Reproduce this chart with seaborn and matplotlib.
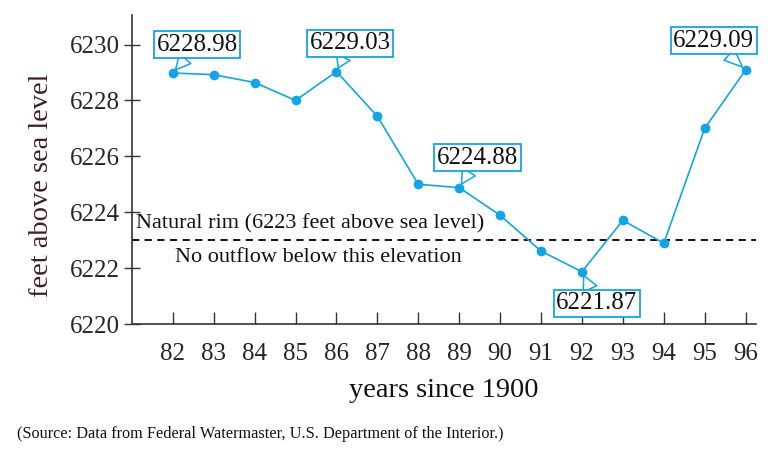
import pandas as pd
import seaborn as sns
import matplotlib
matplotlib.use("Agg")
import matplotlib.pyplot as plt

# Lake level data (years since 1900 vs feet above sea level)
years = [82, 83, 84, 85, 86, 87, 88, 89, 90, 91, 92, 93, 94, 95, 96]
levels = [6228.98, 6228.92, 6228.64, 6228.00, 6229.03, 6227.43, 6225.00, 6224.88,
          6223.89, 6222.61, 6221.87, 6223.71, 6222.89, 6227.00, 6229.09]
y_ticks = [6220, 6222, 6224, 6226, 6228, 6230]
rim_level = 6223

# Callout labels: (year, label text position x, label text position y)
callouts = [(82, 82.6, 6230.0), (86, 86.33, 6230.05), (89, 89.45, 6225.95),
            (92, 92.36, 6220.75), (96, 95.22, 6230.14)]

df = pd.DataFrame({"year": years, "level": levels})

sns.set_theme(style="ticks")
plt.rcParams['font.family'] = ['Liberation Serif', 'DejaVu Serif']

blue = "#12a5e6"
fig = plt.figure(figsize=(7.76, 4.59), dpi=100)
ax = fig.add_axes([0.170, 0.294, 0.804, 0.673])

sns.lineplot(x="year", y="level", data=df, ax=ax, color=blue, linewidth=1.2,
             marker="o", markersize=7, markeredgewidth=0, markerfacecolor=blue)

# Natural rim line
ax.axhline(rim_level, color="black", linestyle=(0, (4, 3)), linewidth=1.3, zorder=1)
ax.text(81.1, 6223.57, "Natural rim (6223 feet above sea level)", fontsize=16,
        va="center", ha="left", color="#111111")
ax.text(82.05, 6222.39, "No outflow below this elevation", fontsize=16,
        va="center", ha="left", color="#111111")

# Callout boxes
lookup = dict(zip(years, levels))
for yr, tx, ty in callouts:
    val = lookup[yr]
    ax.annotate(f"{val:.2f}", xy=(yr, val), xytext=(tx, ty), fontsize=18,
                ha="center", va="center", color="#111111", zorder=5,
                bbox=dict(boxstyle="square,pad=0.1", fc="white", ec=blue, lw=1.3),
                arrowprops=dict(arrowstyle="wedge,tail_width=0.6,shrink_factor=0.5",
                                fc="white", ec=blue, lw=1.1, shrinkA=0, shrinkB=3))

ax.set_xlim(81, 96.25)
ax.set_ylim(6220, 6231.05)
ax.set_xticks(years)
ax.set_yticks(y_ticks)
ax.tick_params(axis="x", direction="in", length=9, width=1, labelsize=18, pad=14,
               color="#333333")
ax.tick_params(axis="y", direction="inout", length=12, width=1, labelsize=18, pad=3,
               color="#333333")

ax.set_xlabel("years since 1900", fontsize=20.5, labelpad=9, color="#111111")
ax.set_ylabel("feet above sea level", fontsize=20.5, color="#3d1f24")
ax.yaxis.set_label_coords(-0.125, 0.45)

for side in ["top", "right"]:
    ax.spines[side].set_visible(False)
for side in ["left", "bottom"]:
    ax.spines[side].set_color("#333333")
    ax.spines[side].set_linewidth(1.2)

fig.text(0.022, 0.055, "(Source: Data from Federal Watermaster, U.S. Department of the Interior.)",
         fontsize=11.7, ha="left", va="center", color="#111111")

fig.savefig("out.png", dpi=100)
